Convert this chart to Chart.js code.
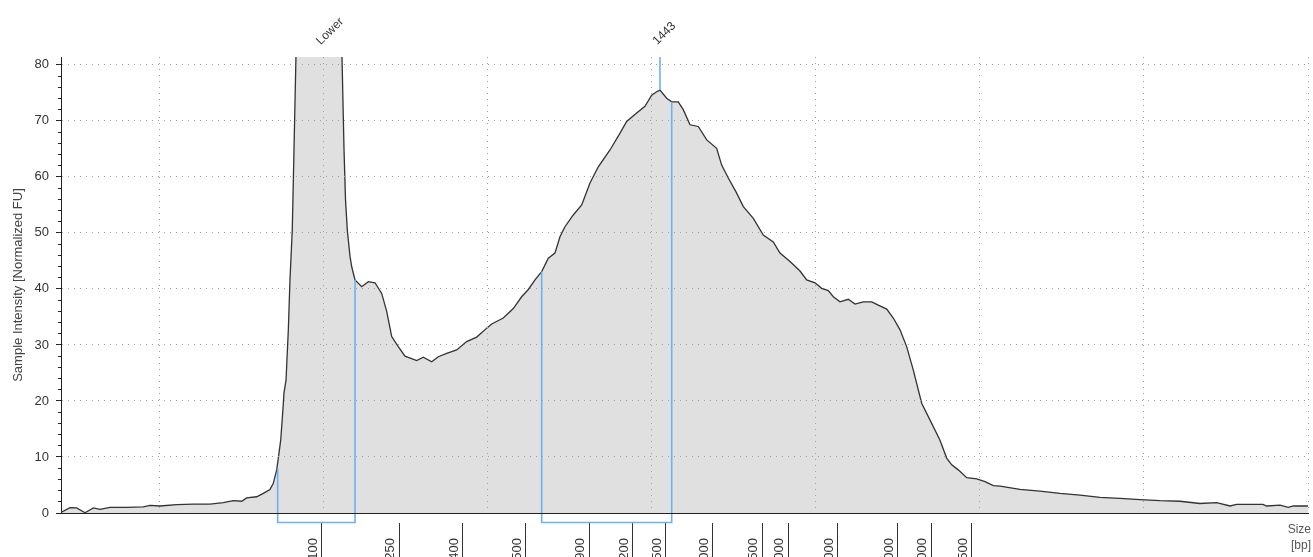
<!DOCTYPE html>
<html>
<head>
<meta charset="utf-8">
<title>Electropherogram</title>
<script src="https://cdn.jsdelivr.net/npm/chart.js@4.4.1/dist/chart.umd.min.js"></script>
<style>
  html, body { margin: 0; padding: 0; background: #fff; overflow: hidden; }
  #wrap { width: 1313px; height: 557px; overflow: hidden; }
  #wrap canvas { display: block; }
</style>
</head>
<body>
<div id="wrap"><canvas id="trace" width="1313" height="590"></canvas></div>
<script>
// trace: run time (s) and intensity (normalized FU)
var traceTime = [8.0, 9.10, 9.91, 10.93, 11.94, 12.75, 13.97, 16.01, 18.03, 18.85, 20.07, 22.10, 24.13, 26.16, 27.78, 29.00, 30.03, 30.63, 31.85, 32.66,
  33.47, 33.88, 34.29, 34.49, 34.78, 35.02, 35.18, 35.43, 35.71, 35.91, 36.19, 36.40, 36.64, 37.13, 39.8, 41.76, 42.25, 42.50, 42.68, 42.90,
  43.02, 43.23, 43.43, 43.63, 43.84, 44.65, 45.46, 46.27, 47.09, 47.70, 48.31, 49.11, 49.93, 51.36, 52.16, 53.18, 53.99, 55.01, 56.23, 57.45,
  58.67, 59.89, 60.50, 61.91, 63.13, 64.15, 64.96, 65.78, 66.59, 67.40, 68.21, 68.82, 69.43, 70.44, 71.47, 72.48, 73.49, 74.92, 76.14, 76.95,
  78.17, 79.18, 80.00, 80.61, 81.01, 81.83, 82.44, 83.24, 83.85, 84.67, 85.68, 86.71, 87.92, 88.53, 89.34, 90.36, 91.17, 92.39, 93.60, 94.82,
  95.64, 96.86, 98.08, 98.89, 99.91, 100.72, 101.53, 102.14, 102.95, 103.97, 104.78, 105.79, 106.82, 107.62, 108.65, 109.45, 110.27, 111.08, 111.89, 112.91,
  114.13, 115.14, 115.96, 116.57, 117.37, 118.40, 119.62, 120.63, 121.64, 122.46, 124.89, 127.33, 129.77, 132.21, 134.64, 137.08, 139.52, 141.96, 144.40, 146.83,
  148.87, 150.49, 151.31, 152.93, 154.51, 154.96, 156.59, 157.60, 158.21, 160.0];
var traceFU = [0.1, 0.95, 0.9, 0.05, 0.9, 0.65, 1.0, 1.0, 1.1, 1.35, 1.25, 1.5, 1.6, 1.6, 1.85, 2.2, 2.1, 2.7, 2.9, 3.5,
  4.2, 5.3, 7.7, 9.8, 13.0, 17.8, 21.4, 23.75, 32.7, 41.6, 50.5, 64.8, 81.5, 110, 150, 110, 81.5, 64.8, 55.9, 50.5,
  48.75, 45.8, 44.0, 42.8, 41.6, 40.4, 41.3, 41.1, 39.2, 36.0, 31.5, 29.7, 28.0, 27.2, 27.8, 27.0, 27.9, 28.5, 29.1, 30.6,
  31.4, 33.0, 33.75, 34.8, 36.5, 38.6, 39.9, 41.6, 43.1, 45.5, 46.4, 49.3, 51.1, 53.2, 55.0, 58.9, 61.8, 64.8, 67.8, 69.9,
  71.4, 72.6, 74.6, 75.2, 75.5, 74.05, 73.4, 73.4, 72.0, 69.3, 69.0, 66.6, 65.1, 62.1, 59.8, 57.1, 54.7, 52.6, 49.6, 48.4,
  46.4, 44.9, 43.2, 41.6, 41.1, 40.1, 39.7, 38.6, 37.7, 38.15, 37.3, 37.7, 37.7, 37.1, 36.4, 34.8, 32.7, 29.7, 25.5, 19.6,
  16.0, 13.0, 9.8, 8.6, 7.7, 6.3, 6.1, 5.6, 4.9, 4.8, 4.2, 3.9, 3.5, 3.2, 2.8, 2.6, 2.4, 2.2, 2.1, 1.7,
  1.85, 1.25, 1.55, 1.55, 1.55, 1.25, 1.4, 1.0, 1.25, 1.25];

// ladder sizes and where they sit on the time axis
var ladderTime = [39.81, 49.20, 57.00, 64.68, 72.36, 77.72, 81.74, 87.47, 93.45, 96.62, 102.71, 110.02, 114.05, 119.04];
var ladderSize = ["100", "250", "400", "500", "900", "1200", "1500", "2000", "2500", "3000", "4000", "7000", "15000", "48500"];

// grid and tick values
var gridTime = [20, 40, 60, 80, 100, 120, 140, 160];
var fuTicks = [0, 10, 20, 30, 40, 50, 60, 70, 80];
var fuMinor = [0, 2, 4, 6, 8, 10, 12, 14, 16, 18, 20, 22, 24, 26, 28, 30, 32, 34, 36, 38, 40,
  42, 44, 46, 48, 50, 52, 54, 56, 58, 60, 62, 64, 66, 68, 70, 72, 74, 76, 78, 80];

// regions (start/end time, trace value at each edge)
var lowerRegion = [34.41, 43.84];
var lowerRegionFU = [8.0, 41.6];
var mainRegion = [66.59, 82.44];
var mainRegionFU = [43.1, 73.4];

// called peaks
var peakNames = ["Lower", "1443"];
var peakTime = [40.0, 81.01];
var peakFU = [150, 75.5];

var FU_MAX = 81.4;
var BRACKET_LOW = -1.7;
var BLUE = '#6cb2ee';

Chart.defaults.font.family = '"Liberation Sans", Arial, sans-serif';

function pts(xs, ys) {
  var out = [];
  for (var i = 0; i < xs.length; i++) out.push({x: xs[i], y: ys[i]});
  return out;
}

function bracket(r, fu) {
  return [
    {x: r[0], y: fu[0]}, {x: r[0], y: BRACKET_LOW},
    {x: r[1], y: BRACKET_LOW}, {x: r[1], y: fu[1]}
  ];
}

var peakLabels = {
  id: 'peakLabels',
  afterDraw: function(chart) {
    var ctx = chart.ctx, xs = chart.scales.x, area = chart.chartArea;
    ctx.save();
    ctx.font = '12px "Liberation Sans", Arial, sans-serif';
    ctx.fillStyle = '#333';
    ctx.textAlign = 'left';
    ctx.textBaseline = 'middle';
    for (var i = 0; i < peakNames.length; i++) {
      var px = xs.getPixelForValue(peakTime[i]);
      ctx.save();
      ctx.translate(px - 5, area.top - 14);
      ctx.rotate(-Math.PI / 4);
      ctx.fillText(peakNames[i], 0, 0);
      ctx.restore();
    }
    // axis unit
    ctx.fillStyle = '#555';
    ctx.textAlign = 'right';
    ctx.textBaseline = 'alphabetic';
    ctx.fillText('Size', area.right + 3, area.bottom + 20);
    ctx.fillText('[bp]', area.right + 3, area.bottom + 36);
    ctx.restore();
  }
};

var ctx = document.getElementById('trace').getContext('2d');
var chart = new Chart(ctx, {
  type: 'line',
  data: {
    datasets: [
      {
        label: 'Sample',
        data: pts(traceTime, traceFU),
        borderColor: '#333',
        borderWidth: 1.3,
        backgroundColor: '#e0e0e0',
        fill: 'origin',
        pointRadius: 0,
        tension: 0,
        order: 2
      },
      {
        label: 'lower region',
        data: bracket(lowerRegion, lowerRegionFU),
        borderColor: BLUE,
        borderWidth: 1.6,
        pointRadius: 0,
        fill: false,
        clip: false,
        order: 1
      },
      {
        label: 'main region',
        data: bracket(mainRegion, mainRegionFU),
        borderColor: BLUE,
        borderWidth: 1.6,
        pointRadius: 0,
        fill: false,
        clip: false,
        order: 1
      },
      {
        label: 'peak 1443',
        data: [{x: peakTime[1], y: peakFU[1]}, {x: peakTime[1], y: FU_MAX}],
        borderColor: BLUE,
        borderWidth: 1.6,
        pointRadius: 0,
        fill: false,
        order: 1
      }
    ]
  },
  options: {
    responsive: false,
    animation: false,
    events: [],
    layout: { padding: { top: 57, right: 5, left: 0, bottom: 0 } },
    plugins: {
      legend: { display: false },
      tooltip: { enabled: false }
    },
    scales: {
      x: {
        type: 'linear',
        position: 'bottom',
        weight: 0,
        min: 8,
        max: 160,
        afterBuildTicks: function(scale) {
          scale.ticks = gridTime.map(function(v) { return {value: v}; });
        },
        afterFit: function(scale) { scale.height = 10; },
        ticks: { display: false },
        grid: { color: '#a0a0a0', drawTicks: false, z: 1 },
        border: { color: '#222', width: 1, dash: [1, 5], z: 2 }
      },
      ladder: {
        type: 'linear',
        position: 'bottom',
        weight: 1,
        min: 8,
        max: 160,
        afterBuildTicks: function(scale) {
          scale.ticks = ladderTime.map(function(v) { return {value: v}; });
        },
        afterFit: function(scale) { scale.height = 67; },
        ticks: {
          autoSkip: false,
          minRotation: 90,
          maxRotation: 90,
          labelOffset: -9,
          padding: -25,
          color: '#333',
          font: { size: 13 },
          callback: function(value, index) { return ladderSize[index]; }
        },
        grid: { drawOnChartArea: false, drawTicks: true, tickLength: 40, tickColor: '#333', tickWidth: 1 },
        border: { display: false }
      },
      y: {
        type: 'linear',
        position: 'left',
        weight: 1,
        min: 0,
        max: FU_MAX,
        afterBuildTicks: function(scale) {
          scale.ticks = fuTicks.map(function(v) { return {value: v}; });
        },
        afterFit: function(scale) { scale.width = 61; },
        ticks: { color: '#333', font: { size: 13 }, padding: 7 },
        title: {
          display: true,
          text: 'Sample Intensity [Normalized FU]',
          color: '#444',
          font: { size: 13 },
          padding: { top: 11, bottom: 0 }
        },
        grid: { color: '#a0a0a0', tickColor: '#222', tickLength: 5, z: 1 },
        border: { color: '#222', width: 1, dash: [1, 5], z: 2 }
      },
      yMinor: {
        type: 'linear',
        position: 'left',
        weight: 0,
        min: 0,
        max: FU_MAX,
        afterBuildTicks: function(scale) {
          scale.ticks = fuMinor.map(function(v) { return {value: v}; });
        },
        afterFit: function(scale) { scale.width = 0; },
        ticks: { display: false },
        grid: { drawOnChartArea: false, tickColor: '#222', tickLength: 3 },
        border: { display: false }
      }
    }
  },
  plugins: [peakLabels]
});
</script>
</body>
</html>
